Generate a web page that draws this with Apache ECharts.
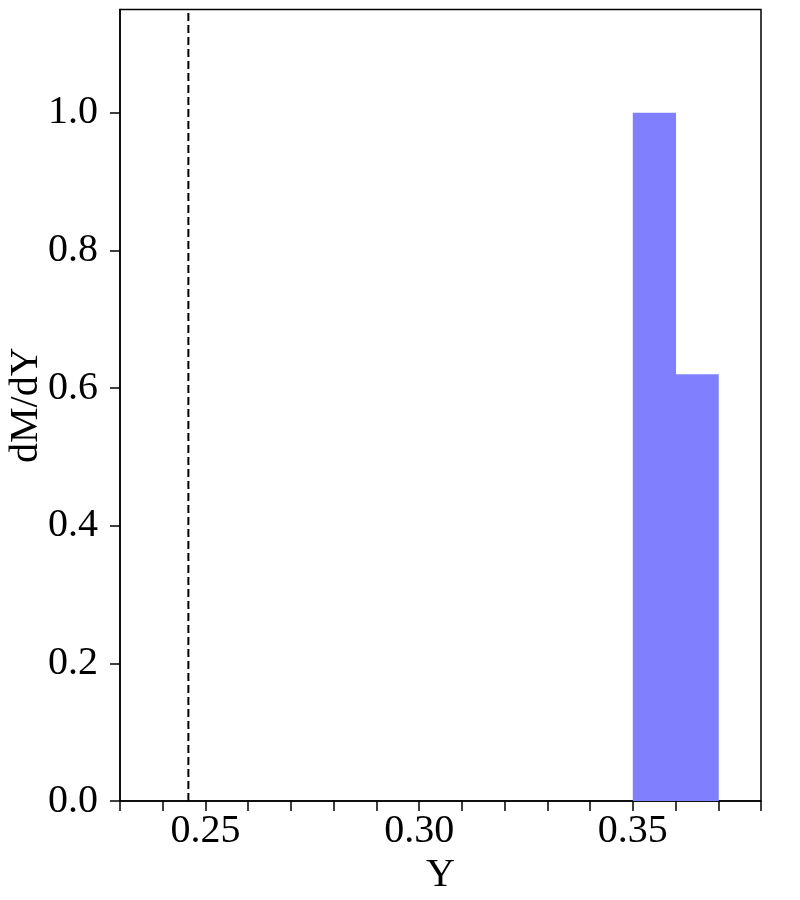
<!DOCTYPE html>
<html><head><meta charset="utf-8">
<script src="https://cdn.jsdelivr.net/npm/echarts@6/dist/echarts.min.js"></script>
<style>html,body{margin:0;padding:0;background:#fff}#c{width:800px;height:900px}</style>
</head><body><div id="c"></div>
<script>
const binEdges = [0.35, 0.36, 0.37];
const binValues = [1.0, 0.62];
const refLineX = 0.246;
const xTicks = [0.23,0.24,0.25,0.26,0.27,0.28,0.29,0.30,0.31,0.32,0.33,0.34,0.35,0.36,0.37,0.38];
const xLabels = [0.25, 0.30, 0.35];
const yTicks = [0, 0.2, 0.4, 0.6, 0.8, 1.0];
const yMax = 1.15;

const bars = binValues.map((v, i) => [binEdges[i], binEdges[i + 1], v]);
const font = "'Liberation Serif', 'Times New Roman', serif";
const chart = echarts.init(document.getElementById('c'));
chart.setOption({
  animation: false,
  grid: { left: 120, right: 39, top: 9.5, bottom: 99, outerBoundsMode: 'none', containLabel: false, show: true, borderColor: '#000', borderWidth: 1.5, backgroundColor: 'transparent' },
  xAxis: {
    type: 'value', min: 0.23, max: 0.38,
    name: 'Y', nameLocation: 'middle', nameGap: 54, nameMoveOverlap: false,
    nameTextStyle: { fontFamily: font, fontSize: 40, color: '#000' },
    axisLine: { show: true, lineStyle: { color: '#000', width: 1.5 } },
    axisTick: { show: true, length: 10, lineStyle: { color: '#000', width: 1.5 }, customValues: xTicks },
    axisLabel: { customValues: xLabels, formatter: v => v.toFixed(2), fontFamily: font, fontSize: 40, color: '#000', margin: 10 },
    splitLine: { show: false }
  },
  yAxis: {
    type: 'value', min: 0, max: yMax,
    name: 'dM/dY', nameLocation: 'middle', nameGap: 74, nameMoveOverlap: false,
    nameTextStyle: { fontFamily: font, fontSize: 40, color: '#000' },
    axisLine: { show: true, lineStyle: { color: '#000', width: 1.5 } },
    axisTick: { show: true, length: 10, lineStyle: { color: '#000', width: 1.5 }, customValues: yTicks },
    axisLabel: { customValues: yTicks, formatter: v => v.toFixed(1), fontFamily: font, fontSize: 40, color: '#000', margin: 22 },
    splitLine: { show: false }
  },
  series: [{
    type: 'custom',
    data: bars,
    encode: { x: [0, 1], y: 2 },
    renderItem: function (params, api) {
      const p0 = api.coord([api.value(0), 0]);
      const p1 = api.coord([api.value(1), api.value(2)]);
      return { type: 'rect', shape: { x: p0[0], y: p1[1], width: p1[0] - p0[0] + 0.5, height: p0[1] - p1[1] }, style: { fill: '#8080ff' } };
    }
  }, {
    type: 'line',
    data: [[refLineX, 0], [refLineX, yMax]],
    symbol: 'none',
    lineStyle: { color: '#000', type: [8, 4], width: 2 },
    z: 3
  }]
});
</script></body></html>
